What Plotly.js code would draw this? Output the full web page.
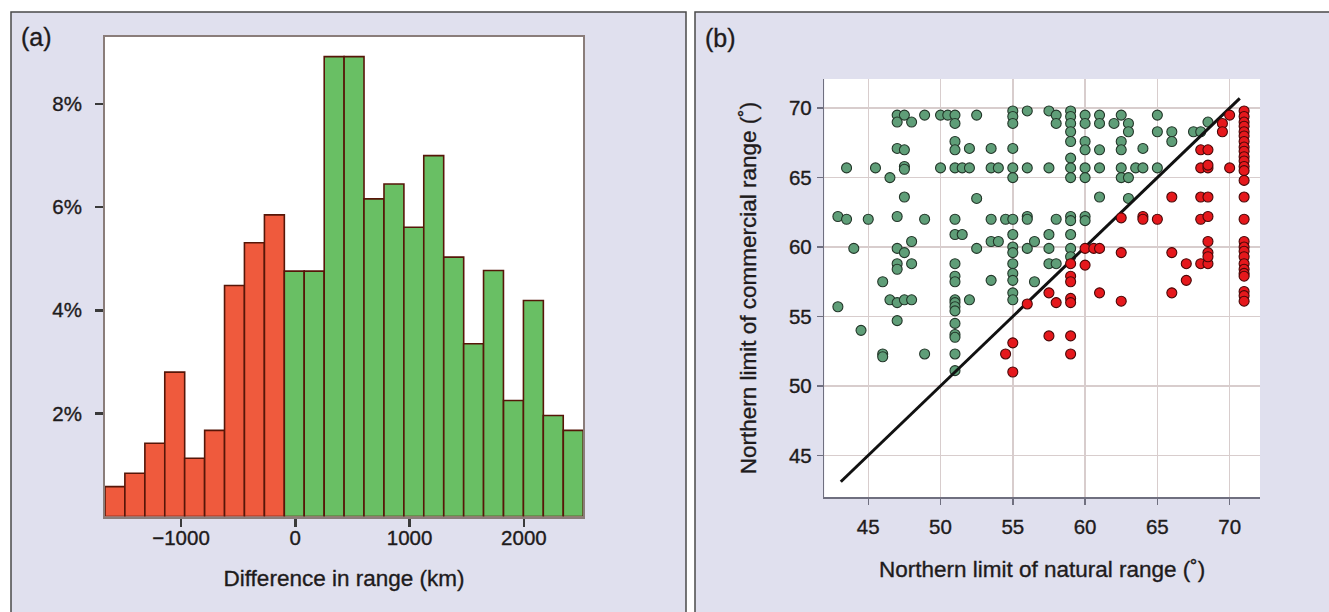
<!DOCTYPE html>
<html>
<head>
<meta charset="utf-8">
<script src="https://cdn.plot.ly/plotly-3.0.1.min.js"></script>
<style>
html,body{margin:0;padding:0;background:#fff;}
#chart{width:1329px;height:612px;}
#chart svg text{stroke:#1e1b1c;stroke-width:0.35px;}
</style>
</head>
<body>
<div id="chart"></div>
<script>
// ---------- Panel (a): histogram of difference in range ----------
var shrinkCenters = [-1578, -1404, -1229, -1055, -881, -706, -532, -358, -183];
var shrinkPct     = [0.58, 0.84, 1.42, 2.80, 1.13, 1.67, 4.48, 5.31, 5.85];
var expandCenters = [-9, 165, 340, 514, 688, 863, 1037, 1211, 1386, 1560, 1734, 1909, 2083, 2257, 2432];
var expandPct     = [4.76, 4.76, 8.92, 8.92, 6.16, 6.45, 5.61, 7.00, 5.03, 3.35, 4.77, 2.25, 4.19, 1.96, 1.67];
var histXTicks = [-1000, 0, 1000, 2000];
var histXTickText = ['\u22121000', '0', '1000', '2000'];
var histYTicks = [2, 4, 6, 8];
var histYTickText = ['2%', '4%', '6%', '8%'];

// ---------- Panel (b): northern limits ----------
var greenNatural = [47.0,47.5,47.0,48.0,48.9,50.0,50.5,51.0,51.0,52.5,55.0,55.0,55.0,56.0,51.0,51.0,47.0,47.5,52.0,53.5,55.0,
  43.5,45.5,47.5,47.5,50.0,51.0,51.5,52.0,53.5,54.0,55.0,55.0,56.0,46.5,47.5,52.5,
  42.9,43.5,45.0,47.0,48.9,51.0,53.5,54.5,55.0,56.0,56.0,
  51.0,51.5,53.5,54.0,55.0,55.0,55.0,56.0,56.5,48.0,44.0,47.0,47.5,52.5,
  48.0,47.0,47.0,51.0,55.0,55.0,55.0,46.0,51.0,51.0,53.5,56.5,
  55.0,55.0,46.5,47.0,47.5,48.0,51.0,51.0,52.0,42.9,51.0,51.0,
  47.0,44.5,51.0,51.0,51.0,46.0,46.0,48.9,51.0,51.0,
  57.5,58.0,58.0,59.0,59.0,59.0,59.0,59.0,60.0,60.0,61.0,61.0,62.0,62.5,63.0,63.0,65.0,65.0,66.0,66.0,67.5,68.0,68.5,
  60.0,60.0,61.0,62.5,62.5,64.0,
  57.5,59.0,59.0,59.0,60.0,60.0,61.0,62.5,62.5,63.0,63.5,64.0,65.0,61.0,63.0,
  58.0,59.0,59.0,60.0,60.0,57.5,57.5,59.0,59.0,57.5,58.0,59.0];
var greenCommercial = [69.5,69.5,69.0,69.0,69.5,69.5,69.5,69.5,68.9,69.5,69.8,69.4,68.9,69.8,67.6,67.0,67.1,67.0,67.1,67.1,67.1,
  65.7,65.7,65.8,65.6,65.7,65.7,65.7,65.7,65.7,65.7,65.7,65.0,65.7,65.0,63.6,63.5,
  62.2,62.0,62.0,62.2,62.0,62.0,62.0,62.0,62.0,62.2,62.0,
  60.9,60.9,60.4,60.4,60.9,60.0,59.6,59.9,60.4,60.4,59.9,59.9,59.6,59.9,
  58.8,58.8,58.4,58.8,58.8,58.1,57.6,57.5,57.9,57.5,57.6,57.5,
  56.7,56.2,56.2,56.0,56.2,56.2,56.2,56.0,56.2,55.7,55.7,55.4,
  54.7,54.0,54.5,53.7,53.5,52.3,52.1,52.3,52.3,51.1,
  69.8,69.5,68.9,69.8,69.4,68.9,68.3,67.6,69.5,68.9,69.5,68.9,68.9,69.5,68.9,68.3,69.5,68.3,68.3,67.6,68.3,68.3,69.0,
  67.6,67.0,67.0,67.6,67.0,67.1,
  65.7,66.4,65.7,65.0,65.7,65.0,65.7,65.7,65.0,65.0,65.7,65.7,65.7,63.6,63.5,
  62.0,62.2,61.9,62.2,61.9,60.9,59.9,60.9,59.9,58.8,58.8,59.3];
var redNatural = [69.5,69.5,70.0,
  71,71,71,71,71,71,71,71,71,71,71,71,71,71,71,71,71,71,71,71,71,71,71,71,71,71,71,
  68.0,68.5,68.0,68.5,68.5,70.0,66.0,68.0,68.5,
  62.5,64.0,64.0,65.0,68.0,68.5,68.5,68.5,
  60.0,60.6,61.0,59.0,60.0,62.5,66.0,67.0,68.0,68.5,68.5,67.0,59.0,59.0,
  57.5,58.0,59.0,59.0,61.0,62.5,66.0,56.0,57.5,59.0,59.0,55.0,54.5,55.0];
var redCommercial = [68.9,68.3,69.5,
  69.8,69.4,69.0,68.7,68.3,68.0,67.6,67.2,66.9,66.5,66.2,65.8,65.5,64.8,63.6,62.0,60.4,60.0,59.7,59.3,58.8,58.4,58.1,57.9,56.8,56.5,56.1,
  67.0,67.0,65.7,65.7,65.9,65.7,63.6,63.6,63.6,
  62.1,62.2,62.0,62.0,62.0,62.2,60.4,59.6,
  59.9,59.9,59.9,58.8,58.7,59.6,59.6,58.8,58.8,58.8,59.3,57.6,57.9,57.5,
  56.7,56.0,56.3,56.0,56.7,56.1,56.7,55.9,53.6,53.6,52.3,53.1,52.3,51.0];
var equalityLine = [43.1, 70.7];
var scatterTicks = [45, 50, 55, 60, 65, 70];

var FONT = 'Liberation Sans, Arial, Helvetica, sans-serif';
var TXT = '#1e1b1c';
var W = 1329, H = 612;
function px(x){ return x / W; }
function py(y){ return 1 - y / H; }

var traces = [
  {type:'bar', x: shrinkCenters, y: shrinkPct, width: 174.3, xaxis:'x', yaxis:'y',
   marker:{color:'#ef5a3d', line:{color:'#561608', width:1.6}}, hoverinfo:'x+y'},
  {type:'bar', x: expandCenters, y: expandPct, width: 174.3, xaxis:'x', yaxis:'y',
   marker:{color:'#69bf64', line:{color:'#561608', width:1.6}}, hoverinfo:'x+y'},
  {type:'scatter', mode:'markers', x: greenNatural, y: greenCommercial, xaxis:'x2', yaxis:'y2',
   marker:{size:10, color:'#5f9e78', line:{color:'#233629', width:1.1}}},
  {type:'scatter', mode:'lines', x: equalityLine, y: equalityLine, xaxis:'x2', yaxis:'y2',
   line:{color:'#111111', width:3}, hoverinfo:'skip'},
  {type:'scatter', mode:'markers', x: redNatural, y: redCommercial, xaxis:'x2', yaxis:'y2',
   marker:{size:10, color:'#e5181c', line:{color:'#480808', width:1.1}}}
];

var layout = {
  width: W, height: H,
  margin:{l:0, r:0, t:0, b:0},
  paper_bgcolor:'#ffffff', plot_bgcolor:'#ffffff',
  showlegend:false, barmode:'overlay', bargap:0,
  font:{family: FONT, color: TXT, size: 20},
  xaxis:{domain:[px(105), px(583)], range:[-1665, 2517], anchor:'y',
    tickvals: histXTicks, ticktext: histXTickText, ticks:'outside', ticklen:8, tickwidth:2.5, tickcolor:'#3a3a3a',
    showline:true, mirror:true, linecolor:'#8a7d7a', linewidth:2, showgrid:false, zeroline:false,
    tickfont:{size:20.5, family:FONT, color:TXT}, ticklabelstandoff:-6,
    title:{text:'Difference in range (km)', font:{size:22.5, family:FONT, color:TXT}, standoff:22}},
  yaxis:{domain:[py(516.5), py(37)], range:[0, 9.3], anchor:'x',
    tickvals: histYTicks, ticktext: histYTickText, ticks:'outside', ticklen:8, tickwidth:2.5, tickcolor:'#3a3a3a',
    showline:true, mirror:true, linecolor:'#8a7d7a', linewidth:2, showgrid:false, zeroline:false,
    tickfont:{size:20.5, family:FONT, color:TXT}, ticklabelstandoff:9},
  xaxis2:{domain:[px(824.3), px(1260)], range:[41.96, 72.1], anchor:'y2',
    tickvals: scatterTicks, ticks:'outside', ticklen:6, tickwidth:1.5, tickcolor:'#707080',
    showline:true, linecolor:'#6f6f7f', linewidth:1.5, showgrid:true, gridcolor:'#d8cdcd', gridwidth:1.5, zeroline:false,
    tickfont:{size:20.5, family:FONT, color:TXT}, ticklabelstandoff:5,
    title:{text:'Northern limit of natural range (\u02DA)', font:{size:22.5, family:FONT, color:TXT}, standoff:24}},
  yaxis2:{domain:[py(497), py(79)], range:[42.0, 72.1], anchor:'x2',
    tickvals: scatterTicks, ticks:'outside', ticklen:6, tickwidth:1.5, tickcolor:'#707080',
    showline:true, linecolor:'#6f6f7f', linewidth:1.5, showgrid:true, gridcolor:'#d8cdcd', gridwidth:1.5, zeroline:false,
    tickfont:{size:20.5, family:FONT, color:TXT}, ticklabelstandoff:1,
    title:{text:'Northern limit of commercial range (\u02DA)', font:{size:22.5, family:FONT, color:TXT}, standoff:26}},
  shapes:[
    {type:'rect', xref:'paper', yref:'paper', x0:px(11), x1:px(686), y0:-0.05, y1:py(12), layer:'below',
     fillcolor:'#e0e0ee', line:{color:'#4a4a4a', width:1.5}},
    {type:'rect', xref:'paper', yref:'paper', x0:px(695), x1:1.05, y0:-0.05, y1:py(12), layer:'below',
     fillcolor:'#e0e0ee', line:{color:'#4a4a4a', width:1.5}},
    {type:'rect', xref:'x domain', yref:'y domain', x0:0, x1:1, y0:0, y1:1, layer:'below',
     fillcolor:'#ffffff', line:{width:0}},
    {type:'rect', xref:'x2 domain', yref:'y2 domain', x0:0, x1:1, y0:0, y1:1, layer:'below',
     fillcolor:'#ffffff', line:{width:0}}
  ],
  annotations:[
    {text:'(a)', xref:'paper', yref:'paper', x:px(19), y:py(37), xanchor:'left', yanchor:'middle', showarrow:false,
     font:{size:25, family:FONT, color:TXT}},
    {text:'(b)', xref:'paper', yref:'paper', x:px(703), y:py(38), xanchor:'left', yanchor:'middle', showarrow:false,
     font:{size:25, family:FONT, color:TXT}}
  ]
};

Plotly.newPlot('chart', traces, layout, {displayModeBar:false, staticPlot:true});
</script>
</body>
</html>
